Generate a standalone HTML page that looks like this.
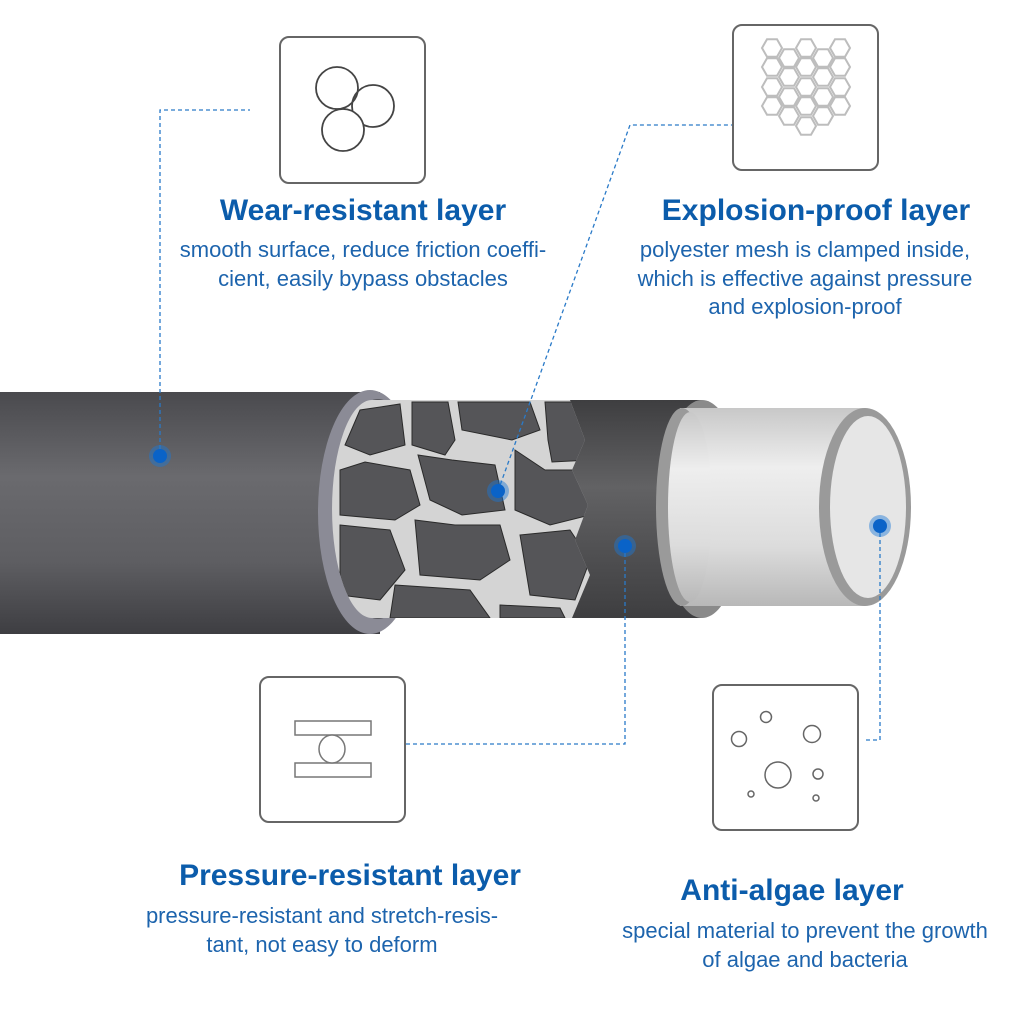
<!DOCTYPE html>
<html><head><meta charset="utf-8"><style>
html,body{margin:0;padding:0;background:#fff}
body{width:1024px;height:1024px;position:relative;overflow:hidden;font-family:"Liberation Sans",Arial,sans-serif}
.t{position:absolute;color:#0b5cab;font-weight:bold;font-size:30px;text-align:center;white-space:nowrap}
.d{position:absolute;color:#1d64ad;font-size:22px;line-height:28.5px;text-align:center;white-space:nowrap}
</style></head><body>
<svg width="1024" height="1024" style="position:absolute;left:0;top:0">
<defs>
<linearGradient id="g1" x1="0" y1="0" x2="0" y2="1">
<stop offset="0" stop-color="#4a4a4e"/><stop offset="0.35" stop-color="#6a6a6e"/><stop offset="0.7" stop-color="#5e5e62"/><stop offset="1" stop-color="#3e3e42"/></linearGradient>
<linearGradient id="g2" x1="0" y1="0" x2="0" y2="1">
<stop offset="0" stop-color="#3e3e40"/><stop offset="0.4" stop-color="#626264"/><stop offset="1" stop-color="#3e3e40"/></linearGradient>
<linearGradient id="g3" x1="0" y1="0" x2="0" y2="1">
<stop offset="0" stop-color="#c8c8c8"/><stop offset="0.3" stop-color="#eeeeee"/><stop offset="0.7" stop-color="#dcdcdc"/><stop offset="1" stop-color="#b8b8b8"/></linearGradient>
<clipPath id="mc"><path d="M372 400 L570 400 L585 440 L572 470 L588 505 L575 540 L590 575 L572 618 L372 618 A40 109 0 0 1 372 400Z"/></clipPath>
<polygon id="hx" points="10,0 5,8.7 -5,8.7 -10,0 -5,-8.7 5,-8.7" fill="none" stroke="#bdbdbd" stroke-width="2"/>
</defs>
<rect x="0" y="392" width="380" height="242" fill="url(#g1)"/>
<ellipse cx="370" cy="512" rx="52" ry="122" fill="#8b8b96"/>
<ellipse cx="378" cy="509" rx="42" ry="110" fill="#5a5a60"/>
<rect x="372" y="400" width="330" height="218" fill="url(#g2)"/>
<ellipse cx="702" cy="509" rx="42" ry="109" fill="#8a8a8a"/>
<g clip-path="url(#mc)">
<rect x="330" y="395" width="270" height="230" fill="#d4d4d4"/>
<g fill="#555558" stroke="#2a2a2a" stroke-width="1">
<polygon points="345,445 360,410 400,404 405,445 370,455"/>
<polygon points="412,402 448,402 455,440 445,455 412,445"/>
<polygon points="458,402 530,402 540,430 512,440 462,430"/>
<polygon points="545,402 590,402 590,460 552,462 548,440"/>
<polygon points="340,470 365,462 410,470 420,505 395,520 340,515"/>
<polygon points="418,455 452,460 495,465 505,510 462,515 430,500"/>
<polygon points="515,450 545,470 590,470 590,515 550,525 515,510"/>
<polygon points="340,525 390,530 405,570 380,600 340,595"/>
<polygon points="415,520 455,525 500,525 510,560 480,580 420,575"/>
<polygon points="520,535 570,530 590,560 575,600 530,595"/>
<polygon points="395,585 470,590 490,618 390,618"/>
<polygon points="500,605 560,608 565,618 500,618"/>
</g>
</g>
<rect x="680" y="408" width="185" height="198" fill="url(#g3)"/>
<ellipse cx="682" cy="507" rx="26" ry="99" fill="#9a9a9a"/>
<ellipse cx="690" cy="507" rx="22" ry="95" fill="url(#g3)"/>
<ellipse cx="865" cy="507" rx="46" ry="99" fill="#9a9a9a"/>
<ellipse cx="868" cy="507" rx="38" ry="91" fill="#e6e6e6"/>
<g fill="none" stroke="#2a7ac8" stroke-width="1.3" stroke-dasharray="4,3">
<path d="M160 456 V110 H250"/>
<path d="M498 491 L630 125 H735"/>
<path d="M625 546 V744 H405"/>
<path d="M880 526 V740 H865"/>
</g>
<g>
<circle cx="160" cy="456" r="11" fill="#1a78d8" opacity="0.45"/><circle cx="160" cy="456" r="7" fill="#0a63c8"/>
<circle cx="498" cy="491" r="11" fill="#1a78d8" opacity="0.45"/><circle cx="498" cy="491" r="7" fill="#0a63c8"/>
<circle cx="625" cy="546" r="11" fill="#1a78d8" opacity="0.45"/><circle cx="625" cy="546" r="7" fill="#0a63c8"/>
<circle cx="880" cy="526" r="11" fill="#1a78d8" opacity="0.45"/><circle cx="880" cy="526" r="7" fill="#0a63c8"/>
</g>
<g fill="#fff" stroke="#666" stroke-width="2">
<rect x="280" y="37" width="145" height="146" rx="9"/>
<rect x="733" y="25" width="145" height="145" rx="9"/>
<rect x="260" y="677" width="145" height="145" rx="9"/>
<rect x="713" y="685" width="145" height="145" rx="9"/>
</g>
<g fill="none" stroke="#444" stroke-width="1.8">
<circle cx="337" cy="88" r="21"/><circle cx="373" cy="106" r="21"/><circle cx="343" cy="130" r="21" fill="#fff"/>
</g>
<g>
<use href="#hx" x="772" y="48"/><use href="#hx" x="772" y="67"/><use href="#hx" x="772" y="87"/><use href="#hx" x="772" y="106"/>
<use href="#hx" x="789" y="58"/><use href="#hx" x="789" y="77"/><use href="#hx" x="789" y="97"/><use href="#hx" x="789" y="116"/>
<use href="#hx" x="806" y="48"/><use href="#hx" x="806" y="67"/><use href="#hx" x="806" y="87"/><use href="#hx" x="806" y="106"/><use href="#hx" x="806" y="126"/>
<use href="#hx" x="823" y="58"/><use href="#hx" x="823" y="77"/><use href="#hx" x="823" y="97"/><use href="#hx" x="823" y="116"/>
<use href="#hx" x="840" y="48"/><use href="#hx" x="840" y="67"/><use href="#hx" x="840" y="87"/><use href="#hx" x="840" y="106"/>
</g>
<g fill="#fff" stroke="#777" stroke-width="1.5">
<rect x="295" y="721" width="76" height="14"/><rect x="295" y="763" width="76" height="14"/>
<ellipse cx="332" cy="749" rx="13" ry="14"/>
</g>
<g fill="none" stroke="#666" stroke-width="1.5">
<circle cx="766" cy="717" r="5.5"/><circle cx="739" cy="739" r="7.5"/><circle cx="812" cy="734" r="8.5"/>
<circle cx="778" cy="775" r="13"/><circle cx="818" cy="774" r="5"/><circle cx="751" cy="794" r="3"/><circle cx="816" cy="798" r="3"/>
</g>
</svg>
<div class="t" style="left:113px;width:500px;top:194px">Wear-resistant layer</div>
<div class="d" style="left:113px;width:500px;top:236px">smooth surface, reduce friction coeffi-<br>cient, easily bypass obstacles</div>
<div class="t" style="left:566px;width:500px;top:194px">Explosion-proof layer</div>
<div class="d" style="left:555px;width:500px;top:236px">polyester mesh is clamped inside,<br>which is effective against pressure<br>and explosion-proof</div>
<div class="t" style="left:100px;width:500px;top:859px">Pressure-resistant layer</div>
<div class="d" style="left:72px;width:500px;top:902px">pressure-resistant and stretch-resis-<br>tant, not easy to deform</div>
<div class="t" style="left:542px;width:500px;top:874px">Anti-algae layer</div>
<div class="d" style="left:555px;width:500px;top:917px">special material to prevent the growth<br>of algae and bacteria</div>
</body></html>
